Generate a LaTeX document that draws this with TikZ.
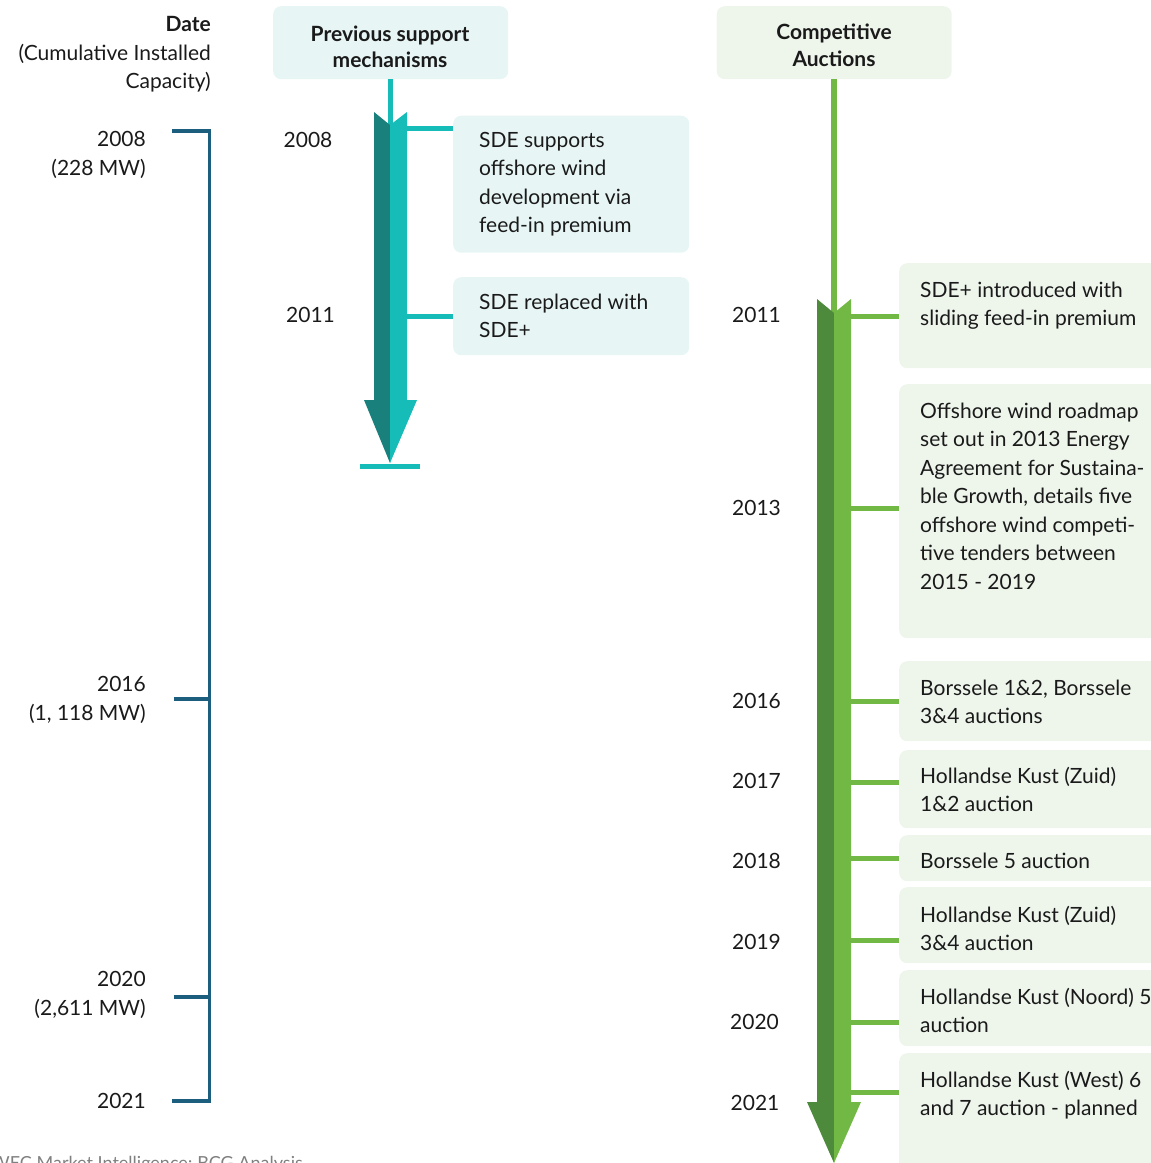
\documentclass[tikz,border=0pt]{standalone}
\usepackage{fontspec}
\setmainfont{Lato}
\definecolor{tealdark}{HTML}{1A807B}
\definecolor{teallight}{HTML}{16BDB8}
\definecolor{tealfill}{HTML}{E7F6F5}
\definecolor{gdark}{HTML}{4E8A3B}
\definecolor{glight}{HTML}{72B844}
\definecolor{gfill}{HTML}{EEF6EC}
\definecolor{bracketblue}{HTML}{1C5E7E}
\definecolor{ink}{HTML}{1A1A1A}
\begin{document}
\begin{tikzpicture}[x=1pt,y=-1pt,
  body/.style={font=\fontsize{21}{28.5}\selectfont, text=ink, inner sep=0pt},
  lefttxt/.style={body, anchor=base west},
  righttxt/.style={body, anchor=base east},
  midtxt/.style={body, anchor=base},
  headtxt/.style={body, font=\fontsize{21}{26}\selectfont\bfseries, anchor=base},
  tbox/.style={rounded corners=8pt, fill=tealfill, draw=none, inner sep=0pt, anchor=north west},
  gbox/.style={rounded corners=8pt, fill=gfill, draw=none, inner sep=0pt, anchor=north west},
  tconn/.style={draw=teallight, line width=5pt},
  gconn/.style={draw=glight, line width=5pt},
  bracket/.style={draw=bracketblue, line width=3.5pt}]
\useasboundingbox (0,0) rectangle (1151,1163);
\clip (0,0) rectangle (1151,1163);

% ---------- left column: installed capacity scale ----------
\node[righttxt, font=\fontsize{21}{28.5}\selectfont\bfseries] (hdate) at (211,31.5) {Date};
\node[righttxt] (hcum) at (211,60.3) {(Cumulative Installed};
\node[righttxt] (hcap) at (211,88) {Capacity)};

\node[righttxt] (y08) at (146,146.7) {2008};
\node[righttxt] (c08) at (146,175.3) {(228 MW)};
\node[righttxt] (y16) at (146,691) {2016};
\node[righttxt] (c16) at (146,720) {(1, 118 MW)};
\node[righttxt] (y20) at (146,986) {2020};
\node[righttxt] (c20) at (146,1015) {(2,611 MW)};
\node[righttxt] (y21) at (146,1108) {2021};

\coordinate (k08) at (174,131);
\coordinate (k16) at (174,699);
\coordinate (k20) at (174,997);
\coordinate (k21) at (174,1101);
\draw[bracket, line cap=rect] (k08) -- (k08 -| 209.5,0) -- (k21 -| 209.5,0) -- (k21);
\draw[bracket] (k16) -- (k16 -| 209.5,0);
\draw[bracket] (k20) -- (k20 -| 209.5,0);

% ---------- previous support mechanisms ----------
\node[tbox, minimum width=235pt, minimum height=73pt] (hdr1) at (273,6) {};
\node[headtxt] (hdr1a) at (390,41.5) {Previous support};
\node[headtxt] (hdr1b) at (390,67) {mechanisms};

\coordinate (tnotch) at (390,125);
\draw[draw=teallight, line width=5pt] (hdr1.south -| tnotch) -- (tnotch);

\fill[tealdark] (374,112) -- (tnotch) -- (390,463) -- (364,400) -- (374,400) -- cycle;
\fill[teallight] (407,112) -- (tnotch) -- (390,463) -- (417,400) -- (407,400) -- cycle;
\coordinate (tbaseL) at (360,466.5);
\coordinate (tbaseR) at (420,466.5);
\draw[draw=teallight, line width=4.5pt] (tbaseL) -- (tbaseR);

\node[midtxt] (m08) at (308,147) {2008};
\node[midtxt] (m11) at (310.5,322) {2011};

\node[tbox, minimum width=236pt, minimum height=137pt] (s08) at (453,115.5) {};
\foreach \ln [count=\i] in {{SDE supports},{offshore wind},{development via},{feed-in premium}}
  \node[lefttxt] (s08-\i) at ({479},{147+(\i-1)*28.5}) {\ln};
\node[tbox, minimum width=236pt, minimum height=78pt] (s11) at (453,277) {};
\foreach \ln [count=\i] in {{SDE replaced with},{SDE+}}
  \node[lefttxt] (s11-\i) at ({479},{309+(\i-1)*28.5}) {\ln};

\coordinate (ta08) at (407,128.5);
\coordinate (ta11) at (407,316);
\draw[tconn] (ta08) -- (ta08 -| s08.west);
\draw[tconn] (ta11) -- (ta11 -| s11.west);

% ---------- competitive auctions ----------
\node[gbox, minimum width=235pt, minimum height=73pt] (hdr2) at (716.5,6) {};
\node[headtxt] (hdr2a) at (834,39.5) {Competitive};
\node[headtxt] (hdr2b) at (834,66) {Auctions};

\coordinate (gnotch) at (834,313);
\draw[draw=glight, line width=5.5pt] (hdr2.south -| gnotch) -- (gnotch);

\fill[gdark] (817,299) -- (gnotch) -- (834,1163) -- (807,1102) -- (817,1102) -- cycle;
\fill[glight] (851,299) -- (gnotch) -- (834,1163) -- (861,1102) -- (851,1102) -- cycle;

% year labels beside the green arrow
\node[midtxt] (g11) at (756.5,322) {2011};
\node[midtxt] (g13) at (756.5,515) {2013};
\node[midtxt] (g16) at (756.5,708) {2016};
\node[midtxt] (g17) at (756.5,788) {2017};
\node[midtxt] (g18) at (756.5,868) {2018};
\node[midtxt] (g19) at (756.5,949) {2019};
\node[midtxt] (g20) at (754.5,1029) {2020};
\node[midtxt] (g21) at (755,1110) {2021};

% event boxes
\node[gbox, minimum width=280pt, minimum height=105pt] (b11) at (899,263) {};
\node[gbox, minimum width=280pt, minimum height=254pt] (b13) at (899,384) {};
\node[gbox, minimum width=280pt, minimum height=80pt] (b16) at (899,661) {};
\node[gbox, minimum width=280pt, minimum height=78pt] (b17) at (899,750) {};
\node[gbox, minimum width=280pt, minimum height=46pt] (b18) at (899,835) {};
\node[gbox, minimum width=280pt, minimum height=76pt] (b19) at (899,887) {};
\node[gbox, minimum width=280pt, minimum height=76pt] (b20) at (899,970) {};
\node[gbox, minimum width=280pt, minimum height=120pt] (b21) at (899,1053) {};

\foreach \ln [count=\i] in {{SDE+ introduced with},{sliding feed-in premium}}
  \node[lefttxt] (t11-\i) at ({920},{297+(\i-1)*28.4}) {\ln};
\foreach \ln [count=\i] in {{Offshore wind roadmap},{set out in 2013 Energy},{Agreement for Sustaina-},{ble Growth, details five},{offshore wind competi-},{tive tenders between},{2015 - 2019}}
  \node[lefttxt] (t13-\i) at ({920},{418+(\i-1)*28.5}) {\ln};
\foreach \ln [count=\i] in {{Borssele 1\&2, Borssele},{3\&4 auctions}}
  \node[lefttxt] (t16-\i) at ({920},{695+(\i-1)*28.5}) {\ln};
\foreach \ln [count=\i] in {{Hollandse Kust (Zuid)},{1\&2 auction}}
  \node[lefttxt] (t17-\i) at ({920},{783+(\i-1)*28.5}) {\ln};
\node[lefttxt] (t18-1) at (920,868.5) {Borssele 5 auction};
\foreach \ln [count=\i] in {{Hollandse Kust (Zuid)},{3\&4 auction}}
  \node[lefttxt] (t19-\i) at ({920},{922+(\i-1)*28.5}) {\ln};
\foreach \ln [count=\i] in {{Hollandse Kust (Noord) 5},{auction}}
  \node[lefttxt] (t20-\i) at ({920},{1004+(\i-1)*28.5}) {\ln};
\foreach \ln [count=\i] in {{Hollandse Kust (West) 6},{and 7 auction - planned}}
  \node[lefttxt] (t21-\i) at ({920},{1087+(\i-1)*28.5}) {\ln};

% connectors from the arrow to the event boxes
\foreach \nm/\yy in {11/316, 13/508, 16/701, 17/782, 18/858, 19/940, 20/1022, 21/1092} {
  \coordinate (ga\nm) at (851,\yy);
  \draw[gconn] (ga\nm) -- (ga\nm -| b\nm.west);
}

% source line at the foot, running off the page edge
\node[anchor=base west, inner sep=0pt, font=\fontsize{18}{21}\selectfont, text=black!50] (src) at (-9,1169) {WEC Market Intelligence; BCG Analysis};
\end{tikzpicture}
\end{document}
